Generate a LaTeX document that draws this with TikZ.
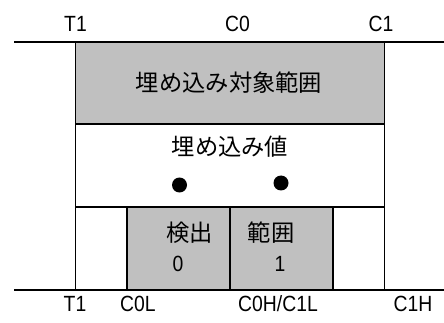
\documentclass[tikz,border=0pt]{standalone}
\usepackage{fontspec}
\newfontfamily\lab[FakeStretch=0.88]{Liberation Sans}
\newfontfamily\jp{Noto Sans CJK JP}
\definecolor{boxgray}{HTML}{C0C0C0}
\newcommand\labfont{\lab\fontsize{22pt}{24pt}\selectfont}
\newcommand\jpfont{\jp\fontsize{23.3pt}{25pt}\selectfont}
\begin{document}
\begin{tikzpicture}[x=1pt,y=-1pt,
  ln/.style={line width=1.8pt},
  bx/.style={draw,line width=1.8pt},
  lbl/.style={font={\labfont},inner sep=0pt},
  jt/.style={font={\jpfont},inner sep=0pt},
  dotc/.style={fill=black,circle,minimum size=15pt,inner sep=0pt}]
\useasboundingbox (0,0) rectangle (444,323);
% rails
\coordinate (tl) at (14,42); \coordinate (tr) at (444,42);
\coordinate (bl) at (14,290); \coordinate (br) at (444,290);
% boxes
\draw[bx,fill=boxgray] (75.5,42) rectangle (384.5,124);
\draw[bx,fill=white] (75.5,124) rectangle (384.5,207);
\draw[bx] (75.5,207) rectangle (384.5,290);
\draw[bx,fill=boxgray] (127,207) rectangle (230,290);
\draw[bx,fill=boxgray] (230,207) rectangle (333,290);
\draw[ln] (tl) -- (tr);
\draw[ln] (bl) -- (br);
% labels
\node[lbl] (t1) at (75.5,23.5) {T1};
\node[lbl] (c0) at (237.5,23.5) {C0};
\node[lbl] (c1) at (381,23.5) {C1};
\node[lbl] (bt1) at (75,303.5) {T1};
\node[lbl] (c0l) at (138,303.5) {C0L};
\node[lbl] (c0h) at (278,303.5) {C0H/C1L};
\node[lbl] (c1h) at (413,303.5) {C1H};
% texts
\node[jt] (tgt) at (229,82.5) {埋め込み対象範囲};
\node[jt] (val) at (230,147) {埋め込み値};
\node[dotc] (d0) at (179.5,185) {};
\node[dotc] (d1) at (281,183) {};
\node[jt] (kd) at (189.5,233) {検出};
\node[jt] (hi) at (271,233) {範囲};
\node[lbl] (n0) at (178,263.5) {0};
\node[lbl] (n1) at (280,263.5) {1};
\end{tikzpicture}
\end{document}
